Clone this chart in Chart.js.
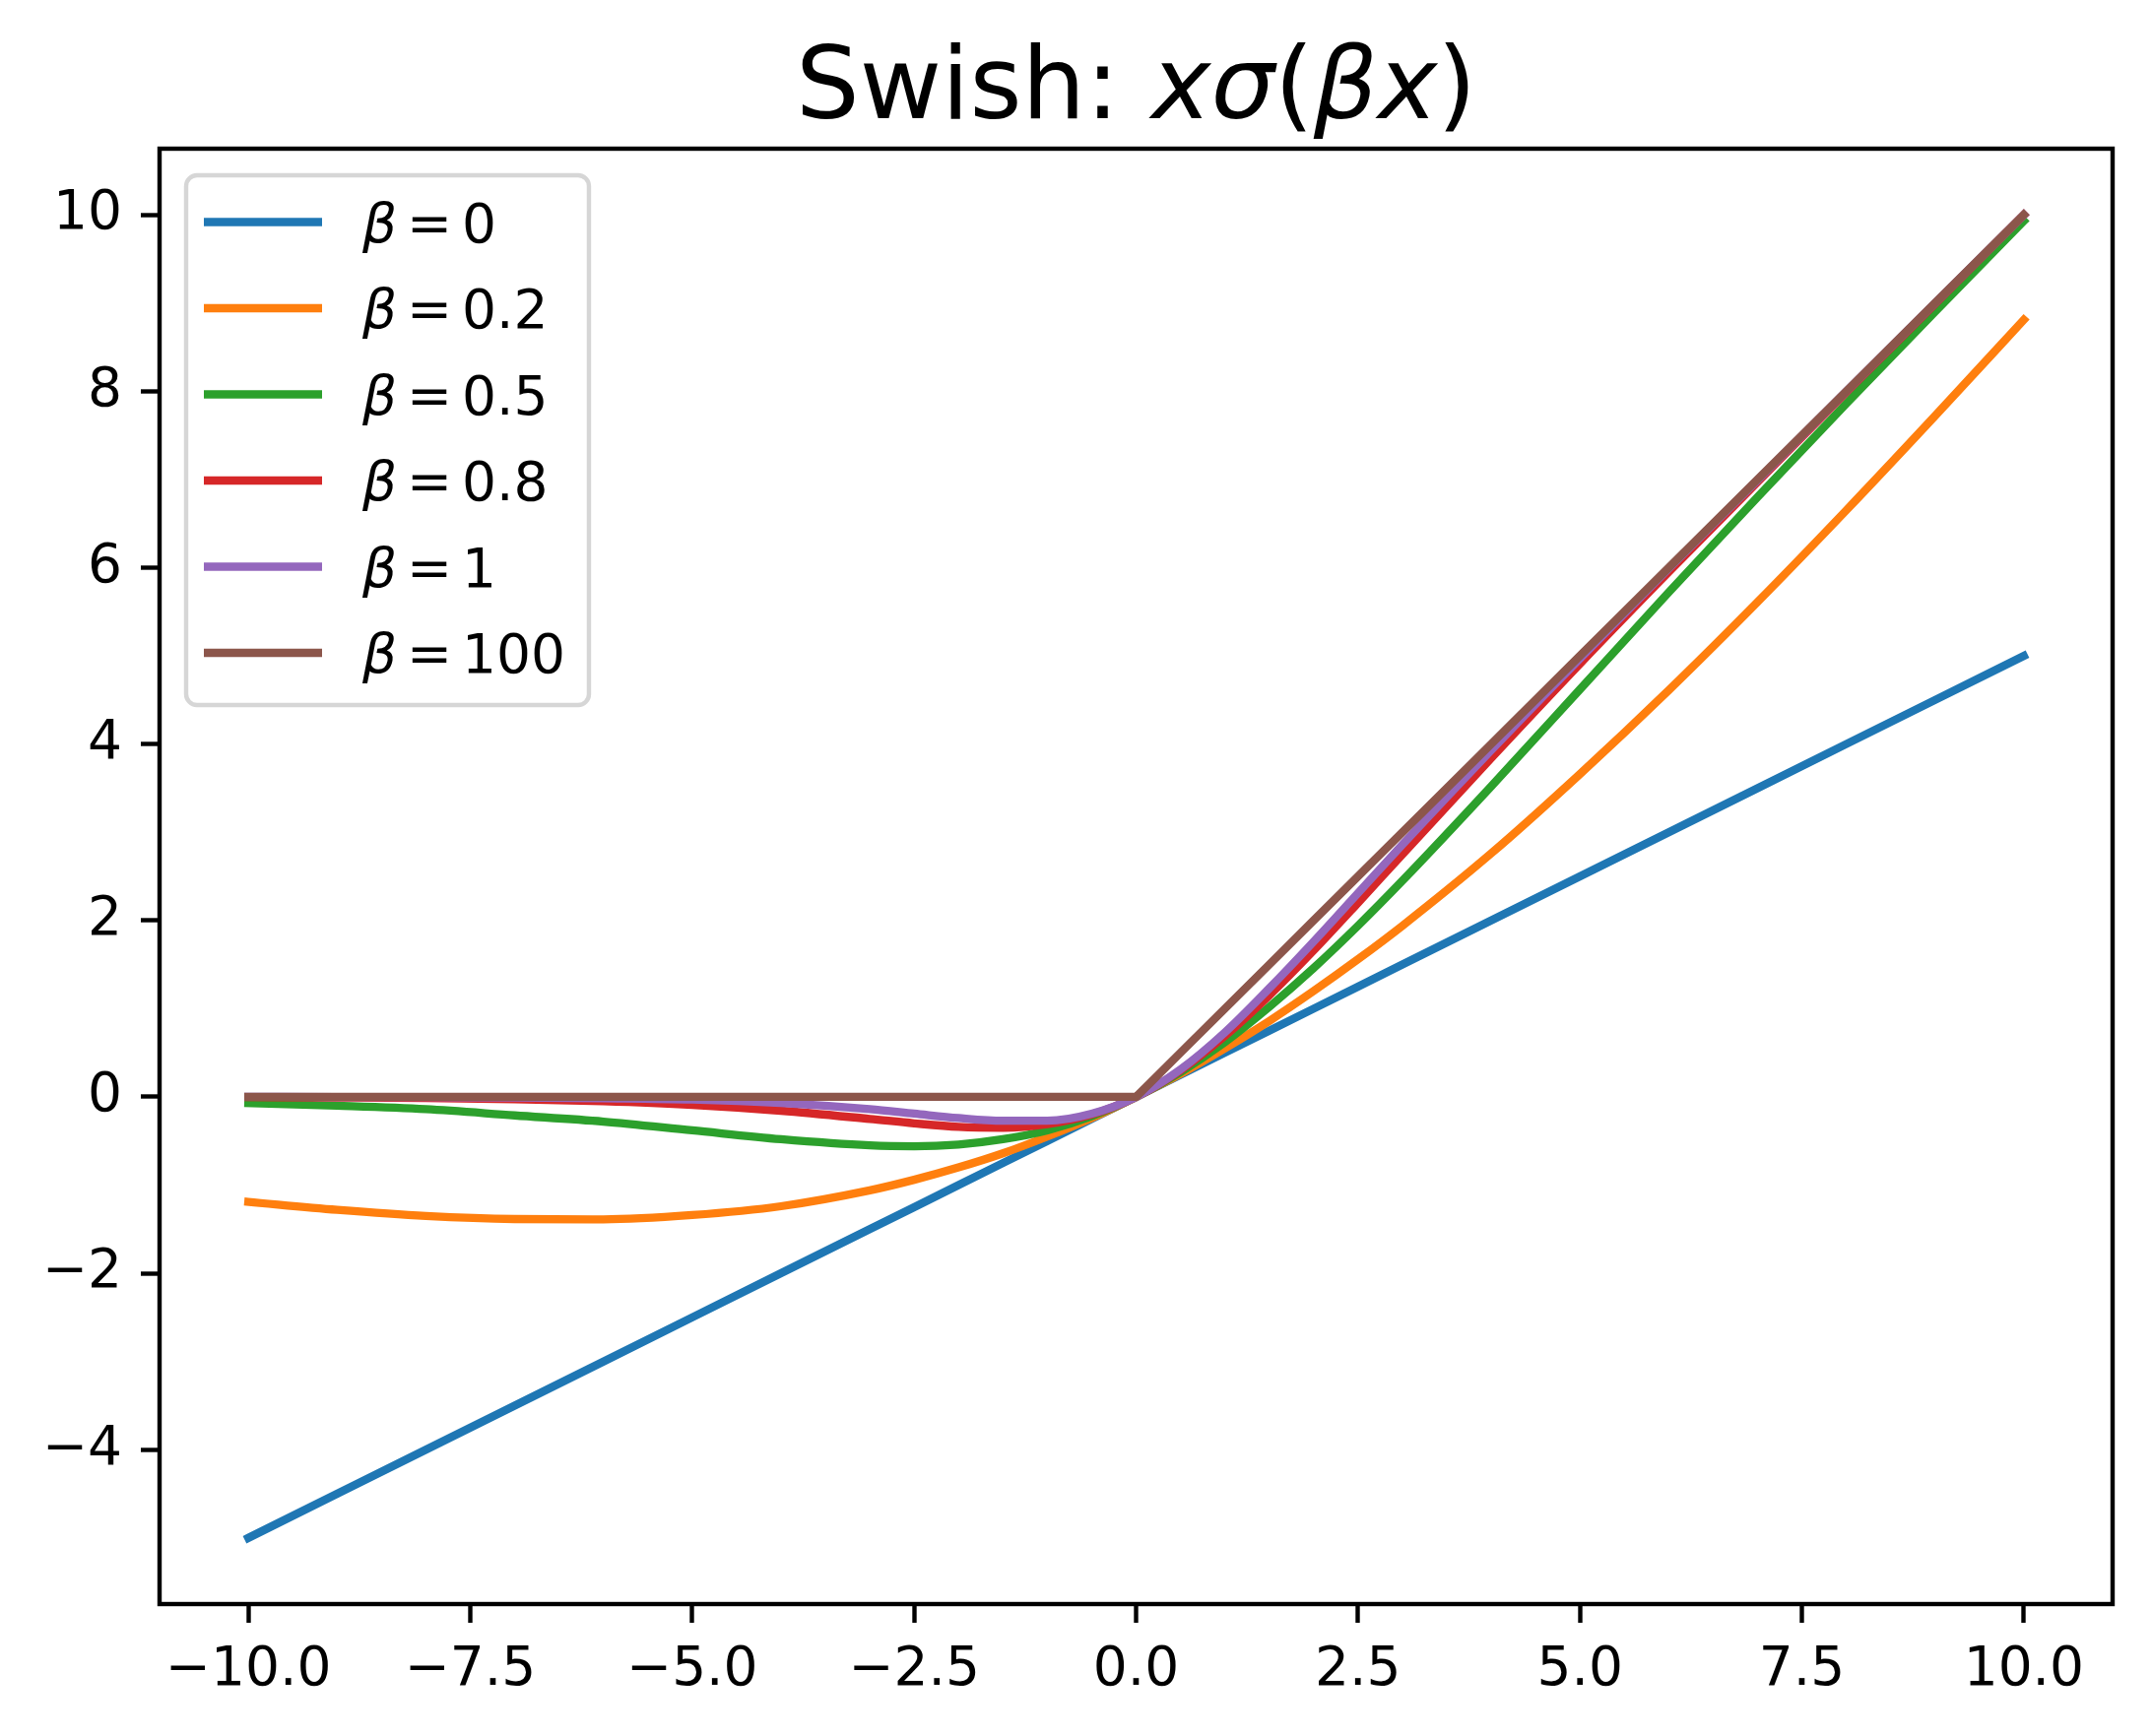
<!DOCTYPE html>
<html>
<head>
<meta charset="utf-8">
<title>Swish</title>
<script src="https://cdn.jsdelivr.net/npm/chart.js@4.4.1/dist/chart.umd.min.js"></script>
<style>
    html, body { margin: 0; padding: 0; background: #fff; }
    #wrap { width: 2184px; height: 1763px; }
</style>
</head>
<body>
<div id="wrap"><canvas id="swishChart" width="2184" height="1763"></canvas></div>
<script>
// x sample positions
var xs = [-10, -9, -8, -7, -6, -5, -4, -3, -2.5, -2, -1.5, -1, -0.5, 0, 0.5, 1, 1.5, 2, 2.5, 3, 4, 5, 6, 7, 8, 9, 10];

// y values of each curve at those x positions
var beta0   = [-5, -4.5, -4, -3.5, -3, -2.5, -2, -1.5, -1.25, -1, -0.75, -0.5, -0.25, 0, 0.25, 0.5, 0.75, 1, 1.25, 1.5, 2, 2.5, 3, 3.5, 4, 4.5, 5];
var beta02  = [-1.19, -1.28, -1.35, -1.385, -1.389, -1.34, -1.24, -1.06, -0.94, -0.80, -0.64, -0.45, -0.24, 0, 0.26, 0.55, 0.86, 1.20, 1.56, 1.94, 2.76, 3.66, 4.61, 5.61, 6.65, 7.72, 8.81];
var beta05  = [-0.07, -0.10, -0.14, -0.21, -0.28, -0.38, -0.48, -0.55, -0.56, -0.54, -0.48, -0.38, -0.22, 0, 0.28, 0.62, 1.02, 1.46, 1.94, 2.45, 3.52, 4.62, 5.72, 6.80, 7.86, 8.90, 9.93];
var beta08  = [-0.003, -0.007, -0.013, -0.026, -0.049, -0.09, -0.157, -0.25, -0.30, -0.34, -0.35, -0.31, -0.20, 0, 0.30, 0.69, 1.15, 1.66, 2.20, 2.75, 3.84, 4.91, 5.95, 6.97, 7.99, 8.99, 10.0];
var beta1   = [0, -0.001, -0.003, -0.006, -0.015, -0.03, -0.07, -0.14, -0.19, -0.24, -0.27, -0.27, -0.19, 0, 0.31, 0.73, 1.23, 1.76, 2.31, 2.86, 3.93, 4.97, 5.99, 6.99, 8.0, 9.0, 10.0];
var beta100 = [0, 0, 0, 0, 0, 0, 0, 0, 0, 0, 0, 0, 0, 0, 0.5, 1, 1.5, 2, 2.5, 3, 4, 5, 6, 7, 8, 9, 10];

var seriesLabels = ['0', '0.2', '0.5', '0.8', '1', '100'];
var seriesColors = ['#1f77b4', '#ff7f0e', '#2ca02c', '#d62728', '#9467bd', '#8c564b'];

// ticks
var xTickValues = [-10, -7.5, -5, -2.5, 0, 2.5, 5, 7.5, 10];
var xTickLabels = ['\u221210.0', '\u22127.5', '\u22125.0', '\u22122.5', '0.0', '2.5', '5.0', '7.5', '10.0'];
var yTickValues = [-4, -2, 0, 2, 4, 6, 8, 10];
var yTickLabels = ['\u22124', '\u22122', '0', '2', '4', '6', '8', '10'];

var FONT = '"DejaVu Sans", "Liberation Sans", sans-serif';

function toPoints(ys) {
    return xs.map(function(x, i) { return { x: x, y: ys[i] }; });
}

var allSeries = [beta0, beta02, beta05, beta08, beta1, beta100];
var datasets = allSeries.map(function(ys, i) {
    var straight = (i === 0 || i === 5);
    return {
        label: seriesLabels[i],
        data: toPoints(ys),
        borderColor: seriesColors[i],
        backgroundColor: seriesColors[i],
        borderWidth: 8.3,
        borderCapStyle: 'square',
        borderJoinStyle: 'round',
        pointRadius: 0,
        fill: false,
        tension: 0,
        cubicInterpolationMode: straight ? 'default' : 'monotone',
        order: allSeries.length - i   // later series on top, like matplotlib
    };
});

// title, spines and legend drawn by hand
var decorPlugin = {
    id: 'decor',
    afterDatasetsDraw: function(chart) {
        var ctx = chart.ctx;
        var a = chart.chartArea;
        ctx.save();

        // spines
        ctx.strokeStyle = '#000';
        ctx.lineWidth = 4.4;
        ctx.lineJoin = 'miter';
        ctx.strokeRect(a.left, a.top, a.right - a.left, a.bottom - a.top);

        // legend
        var L = a.left + 27, T = a.top + 27;
        var rowH = 87.5, firstRow = 47.5;
        var textX = L + 179;
        ctx.font = '55px ' + FONT;
        var maxW = 0;
        seriesLabels.forEach(function(s) {
            maxW = Math.max(maxW, 101 + ctx.measureText(s).width);
        });
        var W = 179 + maxW + 24;
        var H = firstRow + rowH * (seriesLabels.length - 1) + 53;
        var r = 11;
        ctx.beginPath();
        ctx.moveTo(L + r, T);
        ctx.arcTo(L + W, T, L + W, T + H, r);
        ctx.arcTo(L + W, T + H, L, T + H, r);
        ctx.arcTo(L, T + H, L, T, r);
        ctx.arcTo(L, T, L + W, T, r);
        ctx.closePath();
        ctx.fillStyle = 'rgba(255,255,255,0.8)';
        ctx.fill();
        ctx.strokeStyle = 'rgba(204,204,204,0.8)';
        ctx.lineWidth = 4.4;
        ctx.stroke();

        seriesLabels.forEach(function(s, i) {
            var cy = T + firstRow + i * rowH;
            ctx.strokeStyle = seriesColors[i];
            ctx.lineWidth = 8.3;
            ctx.lineCap = 'butt';
            ctx.beginPath();
            ctx.moveTo(L + 18, cy);
            ctx.lineTo(L + 138, cy);
            ctx.stroke();

            ctx.fillStyle = '#000';
            ctx.textAlign = 'left';
            ctx.textBaseline = 'alphabetic';
            ctx.font = 'italic 55px ' + FONT;
            ctx.fillText('\u03b2', textX, cy + 20);
            ctx.font = '55px ' + FONT;
            ctx.fillText('=', textX + 45, cy + 20);
            ctx.fillText(s, textX + 101, cy + 20);
        });

        // title: Swish: xσ(βx)
        var parts = [
            ['Swish: ', ''], ['x', 'italic '], ['\u03c3', 'italic '], ['(', ''],
            ['\u03b2', 'italic '], ['x', 'italic '], [')', '']
        ];
        var total = 0;
        parts.forEach(function(p) {
            ctx.font = p[1] + '102px ' + FONT;
            total += ctx.measureText(p[0]).width;
        });
        var tx = (a.left + a.right) / 2 - total / 2;
        ctx.fillStyle = '#000';
        parts.forEach(function(p) {
            ctx.font = p[1] + '102px ' + FONT;
            ctx.fillText(p[0], tx, 120);
            tx += ctx.measureText(p[0]).width;
        });

        ctx.restore();
    }
};

var tickFont = { family: FONT, size: 55 };

var ctx = document.getElementById('swishChart').getContext('2d');
var swishChart = new Chart(ctx, {
    type: 'line',
    data: { datasets: datasets },
    options: {
        responsive: false,
        animation: false,
        devicePixelRatio: 1,
        layout: { padding: { top: 151, right: 39, left: 0, bottom: 0 } },
        plugins: {
            legend: { display: false },
            title: { display: false },
            tooltip: { enabled: false }
        },
        scales: {
            x: {
                type: 'linear',
                min: -11,
                max: 11,
                border: { display: false },
                grid: {
                    display: true,
                    drawOnChartArea: false,
                    drawTicks: true,
                    tickLength: 19,
                    tickWidth: 4.4,
                    tickColor: '#000'
                },
                ticks: {
                    font: tickFont,
                    color: '#000',
                    padding: 16,
                    maxRotation: 0,
                    autoSkip: false,
                    callback: function(value, index) { return xTickLabels[index]; }
                },
                afterBuildTicks: function(scale) {
                    scale.ticks = xTickValues.map(function(v) { return { value: v }; });
                },
                afterFit: function(scale) { scale.height = 1763 - 1629; }
            },
            y: {
                type: 'linear',
                min: -5.75,
                max: 10.75,
                border: { display: false },
                grid: {
                    display: true,
                    drawOnChartArea: false,
                    drawTicks: true,
                    tickLength: 19,
                    tickWidth: 4.4,
                    tickColor: '#000'
                },
                ticks: {
                    font: tickFont,
                    color: '#000',
                    padding: 19,
                    autoSkip: false,
                    callback: function(value, index) { return yTickLabels[index]; }
                },
                afterBuildTicks: function(scale) {
                    scale.ticks = yTickValues.map(function(v) { return { value: v }; });
                },
                afterFit: function(scale) { scale.width = 162; }
            }
        }
    },
    plugins: [decorPlugin]
});
</script>
</body>
</html>
